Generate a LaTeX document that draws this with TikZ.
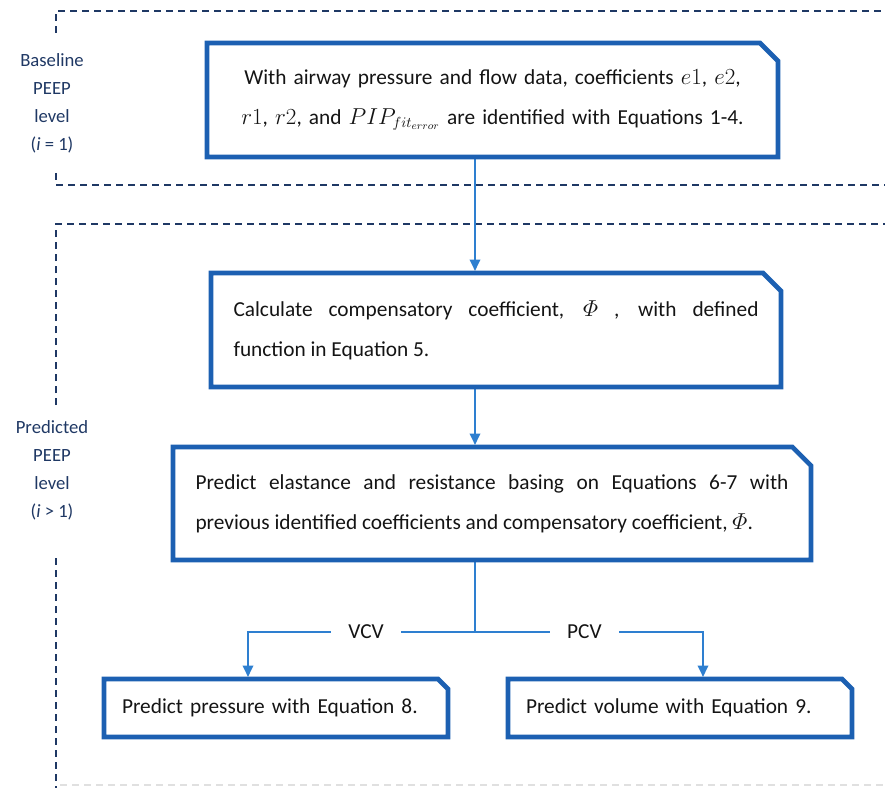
\documentclass[tikz,border=0pt]{standalone}
\usepackage{amsmath}
\usepackage{fontspec}
\setmainfont{Carlito}
\usetikzlibrary{arrows.meta, positioning}

\definecolor{framenavy}{RGB}{31,56,100}
\definecolor{stageblue}{RGB}{28,96,178}
\definecolor{flowblue}{RGB}{46,127,208}
\definecolor{inkblack}{RGB}{20,20,20}

\tikzset{
  stage/.style={rectangle, outer sep=0pt, inner sep=0pt, text=inkblack,
    font=\fontsize{16}{30}\selectfont},
  boxline/.style={draw=stageblue, line width=3.5pt, line join=miter},
  flow/.style={draw=flowblue, line width=1.1pt,
    -{Triangle[length=8.5pt, width=8pt]}, shorten >=1.6pt},
  link/.style={draw=flowblue, line width=1.1pt},
  tag/.style={fill=white, inner xsep=13pt, inner ysep=6pt, text=inkblack,
    font=\fontsize{16}{18}\selectfont},
  side/.style={align=center, text=framenavy, font=\fontsize{14}{21}\selectfont},
  region/.style={draw=framenavy, line width=1.5pt, dash pattern=on 5.5pt off 3.5pt}
}

\begin{document}
\begin{tikzpicture}[x=0.75pt, y=-0.75pt]
  \useasboundingbox (0,0) rectangle (885,788);

  % dashed regions
  \draw[region] (56,33) |- (885,11);
  \draw[region] (56,173) |- (885,185);
  \draw[region] (56,405) |- (885,224);
  \draw[region] (56,558) -- (56,788);
  \draw[draw=black!12, line width=1pt, dash pattern=on 5.5pt off 3.5pt] (60,785) -- (885,785);

  \node[side] (basetag) at (52,103) {Baseline\\PEEP\\level\\(\textit{i} = 1)};
  \node[side] (predtag) at (52,470) {Predicted\\PEEP\\level\\(\textit{i} > 1)};

  % stages
  \node[stage, minimum width=428.25pt, minimum height=85.5pt, text width=400pt,
    align=center] (b1) at (492.5,100)
    {With airway pressure and flow data, coefficients $e1$, $e2$,\\
     $r1$, $r2$, and $PIP_{fit_{error}}$ are identified with Equations 1-4.};
  \node[stage, minimum width=427.5pt, minimum height=85.5pt, text width=393.75pt,
    align=justify] (b2) at (496,330)
    {Calculate compensatory coefficient, $\varPhi$ , with defined\linebreak
     function in Equation 5.};
  \node[stage, minimum width=478.5pt, minimum height=84.75pt, text width=444.75pt,
    align=justify] (b3) at (492,503.5)
    {Predict elastance and resistance basing on Equations 6-7 with\linebreak
     previous identified coefficients and compensatory coefficient, $\varPhi$.};
  \node[stage, minimum width=258pt, minimum height=43.5pt, text width=231pt,
    align=left] (b4) at (276,708) {Predict pressure with Equation 8.};
  \node[stage, minimum width=258pt, minimum height=43.5pt, text width=231pt,
    align=left] (b5) at (680,708) {Predict volume with Equation 9.};

  % connectors
  \coordinate (spine) at (475,0);
  \coordinate (split) at (475,632);
  \draw[flow] (b1.south -| spine) -- (b2.north -| spine);
  \draw[flow] (b2.south -| spine) -- (b3.north -| spine);
  \draw[link] (b3.south -| spine) -- (split);
  \draw[flow] (split) -| node[tag, pos=0.24] {VCV} ([xshift=-21pt]b4.north);
  \draw[flow] (split) -| node[tag, pos=0.24] {PCV} ([xshift=17.25pt]b5.north);

  % outlines with the cut corner
  \foreach \n/\c in {b1/13.5pt, b2/13.5pt, b3/14pt, b4/7.5pt, b5/7.5pt}
    \draw[boxline] (\n.south west) |- ([xshift=-\c]\n.north east)
      -- ([yshift=-\c]\n.north east) -- (\n.south east) -- cycle;
\end{tikzpicture}
\end{document}
